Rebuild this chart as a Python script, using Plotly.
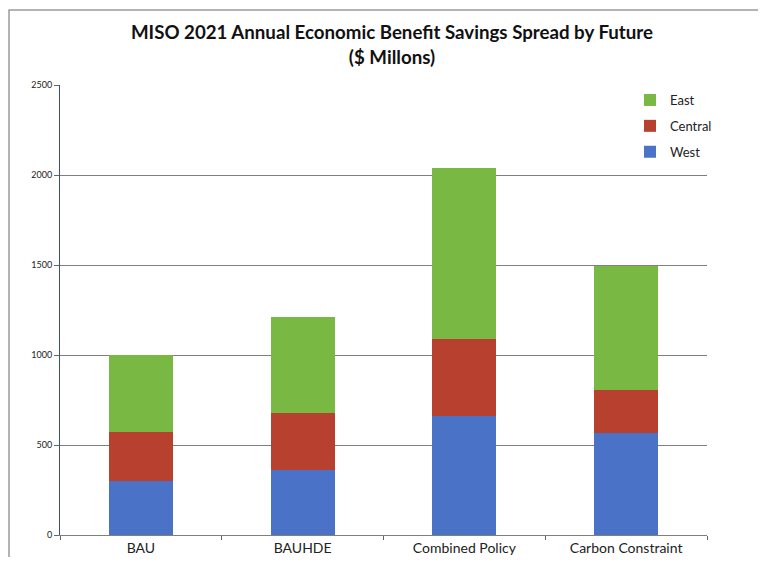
import plotly.graph_objects as go

categories = ["BAU", "BAUHDE", "Combined Policy", "Carbon Constraint"]
west = [302, 363, 662, 564]
central = [270, 315, 428, 240]
east = [428, 534, 948, 691]
series_names = ["West", "Central", "East"]
colors = ["#4A72C6", "#B8402F", "#79B842"]
legend_ranks = [3, 2, 1]
y_ticks = [0, 500, 1000, 1500, 2000, 2500]

fig = go.Figure()
for name, vals, col, rk in zip(series_names, [west, central, east], colors, legend_ranks):
    fig.add_trace(go.Bar(x=categories, y=vals, name=name, marker=dict(color=col, line=dict(width=0)),
                         legendgroup=name, legendrank=rk))

fig.update_layout(
    barmode="stack",
    bargap=0.605,
    width=750, height=549,
    margin=dict(l=52, r=51, t=77, b=22),
    paper_bgcolor="white", plot_bgcolor="white",
    font=dict(family="Lato, 'Open Sans', sans-serif", color="#222"),
    title=dict(text="<b>MISO 2021 Annual Economic Benefit Savings Spread by Future<br>($ Millons)</b>",
               x=0.512, xanchor="center", y=0.943, yanchor="top",
               font=dict(size=18.7, color="#111")),
    legend=dict(x=0.881, y=1.0, xanchor="left", yanchor="top", traceorder="grouped",
                font=dict(size=13, color="#222"), tracegroupgap=6, bgcolor="rgba(0,0,0,0)"),
    showlegend=True,
)
fig.update_yaxes(range=[0, 2500], tickvals=y_ticks, ticktext=[str(v) for v in y_ticks],
                 showgrid=True, gridcolor="#7f7f7f", gridwidth=1,
                 showline=True, linecolor="#3a4a9a", linewidth=1,
                 ticks="outside", ticklen=5, tickcolor="#666",
                 tickfont=dict(size=9, color="#222"), zeroline=False, automargin=False)
fig.update_xaxes(showline=True, linecolor="#7f7f7f", linewidth=1,
                 ticks="outside", tickson="boundaries", ticklen=4, tickcolor="#666",
                 tickfont=dict(size=14, color="#222"), automargin=False)
fig.add_shape(type="rect", xref="paper", yref="paper",
              x0=-0.0788, x1=1.2, y0=-0.2, y1=1.1667,
              line=dict(color="#9a9a9a", width=1.5), fillcolor="rgba(0,0,0,0)", layer="below")
fig.write_html("out.html")
